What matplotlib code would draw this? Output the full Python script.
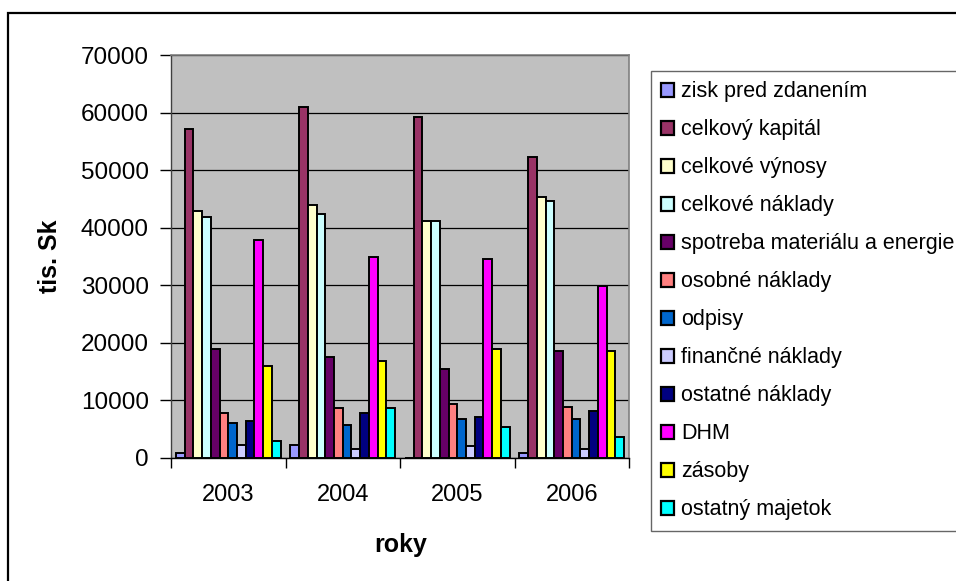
import numpy as np
import matplotlib
matplotlib.use("Agg")
import matplotlib.pyplot as plt
from matplotlib.patches import Rectangle

plt.rcParams['font.family'] = ['Liberation Sans', 'DejaVu Sans']

years = ["2003", "2004", "2005", "2006"]

# series names as shown in the legend
series = [
    "zisk pred zdanením",
    "celkový kapitál",
    "celkové výnosy",
    "celkové náklady",
    "spotreba materiálu a energie",
    "osobné náklady",
    "odpisy",
    "finančné náklady",
    "ostatné náklady",
    "DHM",
    "zásoby",
    "ostatný majetok",
]

# values in tis. Sk, one list per series (2003..2006)
zisk = [900, 2300, 0, 900]
kapital = [57200, 61000, 59300, 52300]
vynosy = [42900, 44000, 41200, 45400]
naklady = [41900, 42400, 41200, 44700]
spotreba = [19000, 17600, 15500, 18600]
osobne = [7900, 8600, 9300, 8900]
odpisy = [6100, 5800, 6800, 6800]
financne = [2300, 1600, 2000, 1600]
ostatne_nakl = [6500, 7900, 7200, 8200]
dhm = [37800, 35000, 34600, 29800]
zasoby = [15900, 16900, 19000, 18600]
ostatny_maj = [3000, 8600, 5400, 3700]

values = [zisk, kapital, vynosy, naklady, spotreba, osobne, odpisy,
          financne, ostatne_nakl, dhm, zasoby, ostatny_maj]

colors = ["#9999FF", "#993366", "#FFFFCC", "#CCFFFF", "#660066", "#FF8080",
          "#0066CC", "#CCCCFF", "#000080", "#FF00FF", "#FFFF00", "#00FFFF"]

W, H = 956, 581
fig = plt.figure(figsize=(W / 100, H / 100), dpi=100)
fig.patch.set_facecolor("white")

# plot area in pixels: left 171, right 629, top 55, bottom 458
ax = fig.add_axes([171 / W, 1 - 458 / H, (629 - 171) / W, (458 - 55) / H])
ax.set_facecolor("#C0C0C0")

x = np.arange(len(years))
bw = 0.0763
n = len(series)
for i, (name, vals, c) in enumerate(zip(series, values, colors)):
    ax.bar(x + (i - (n - 1) / 2) * bw, vals, width=bw, color=c,
           edgecolor="black", linewidth=1.4, label=name, zorder=3)

ax.set_xlim(-0.5, 3.5)
ax.set_ylim(0, 70000)
ax.set_yticks(np.arange(0, 70001, 10000))
ax.yaxis.grid(True, color="black", linewidth=0.9, zorder=1)
ax.set_axisbelow(True)

ax.set_xticks(x)
ax.set_xticklabels(years)
ax.set_xticks(np.arange(-0.5, 3.6, 1), minor=True)
ax.tick_params(axis="x", which="major", length=0, pad=19, labelsize=17)
ax.tick_params(axis="x", which="minor", length=7, width=1, color="black",
               direction="out")
ax.tick_params(axis="y", length=8, width=1, pad=8, labelsize=17.5,
               direction="out")

for side in ("top", "right"):
    ax.spines[side].set_color("#808080")
    ax.spines[side].set_linewidth(1.2)
ax.spines["left"].set_color("#404040")
ax.spines["bottom"].set_color("black")
ax.spines["left"].set_linewidth(1)
ax.spines["bottom"].set_linewidth(1)

fig.text(50 / W, 1 - 256 / H, "tis. Sk", rotation=90, ha="center",
         va="center", fontsize=18, fontweight="bold")
fig.text(401 / W, 1 - 545 / H, "roky", ha="center", va="center",
         fontsize=18, fontweight="bold")

leg = fig.legend(loc="upper left", bbox_to_anchor=(650.5 / W, 1 - 71 / H),
                 borderaxespad=0, fontsize=15.5, frameon=True, fancybox=False,
                 handlelength=0.6, handleheight=0.6, handletextpad=0.33,
                 labelspacing=0.79, borderpad=0.48)
leg.get_frame().set_edgecolor("#404040")
leg.get_frame().set_linewidth(1)
for h in leg.legend_handles:
    h.set_linewidth(1.6)

# outer chart border (right and bottom edges fall outside the image)
fig.patches.append(Rectangle((8 / W, -0.2), 1.2, 1.2 - 13 / H,
                             transform=fig.transFigure, fill=False,
                             edgecolor="black", linewidth=1.6))

fig.savefig("out.png", dpi=100)
